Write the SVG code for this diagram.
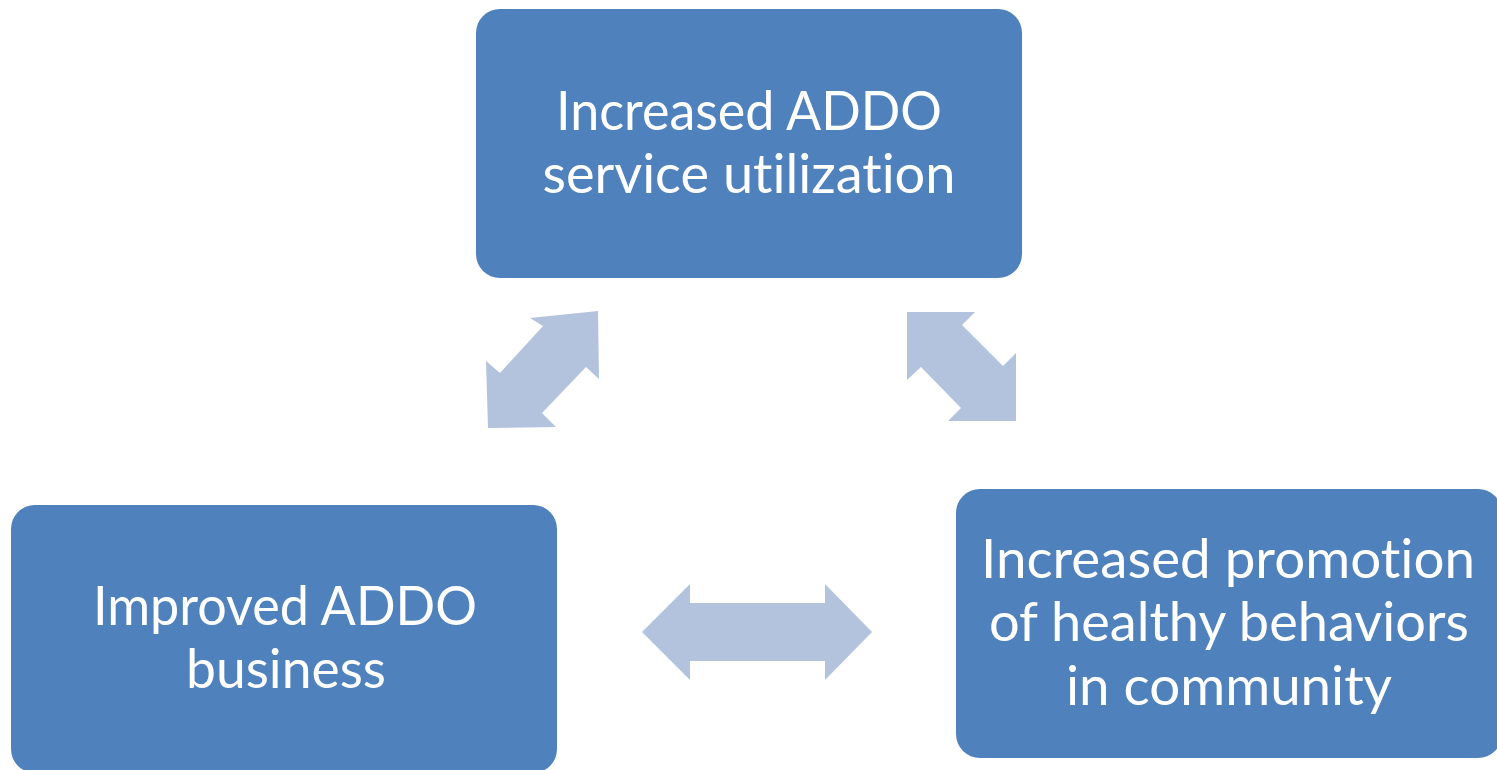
<svg xmlns="http://www.w3.org/2000/svg" width="1497" height="770" viewBox="0 0 1497 770">
  <style>
    .box { fill: #4F81BD; }
    .label { fill: #FFFFFF; font-family: Lato, "Open Sans", sans-serif; font-size: 55px; text-anchor: middle; font-variant-ligatures: none; }
    .arrow { fill: #B3C3DD; }
  </style>
  <rect width="1497" height="770" fill="#FFFFFF"/>

  <g id="connectors">
    <!-- top ↔ left -->
    <polygon class="arrow" points="530,318 598,311 599,379 586,367 542,413 556,427 488,428 486,361 500,373 543,326"/>
    <!-- top ↔ right -->
    <polygon class="arrow" points="907,312 975,312 962,325 1003,366 1016,353 1016,421 948,421 961,408 921,367 907,380"/>
    <!-- left ↔ right -->
    <polygon class="arrow" points="642,632 690,584 690,603 825,603 825,584 872,632 825,680 825,661 690,661 690,680"/>
  </g>

  <g id="node-utilization">
    <rect class="box" x="476" y="9" width="546" height="269" rx="24" ry="24"/>
    <text class="label" x="749" y="130" textLength="386" lengthAdjust="spacingAndGlyphs">Increased ADDO</text>
    <text class="label" x="749" y="193" textLength="413" lengthAdjust="spacingAndGlyphs">service utilization</text>
  </g>

  <g id="node-business">
    <rect class="box" x="11" y="505" width="546" height="268" rx="24" ry="24"/>
    <text class="label" x="285" y="625" textLength="384" lengthAdjust="spacingAndGlyphs">Improved ADDO</text>
    <text class="label" x="286" y="688" textLength="200" lengthAdjust="spacingAndGlyphs">business</text>
  </g>

  <g id="node-promotion">
    <rect class="box" x="956" y="489" width="546" height="269" rx="24" ry="24"/>
    <text class="label" x="1228" y="578" textLength="494" lengthAdjust="spacingAndGlyphs">Increased promotion</text>
    <text class="label" x="1229" y="641" textLength="480" lengthAdjust="spacingAndGlyphs">of healthy behaviors</text>
    <text class="label" x="1229" y="705" textLength="326" lengthAdjust="spacingAndGlyphs">in community</text>
  </g>
</svg>
